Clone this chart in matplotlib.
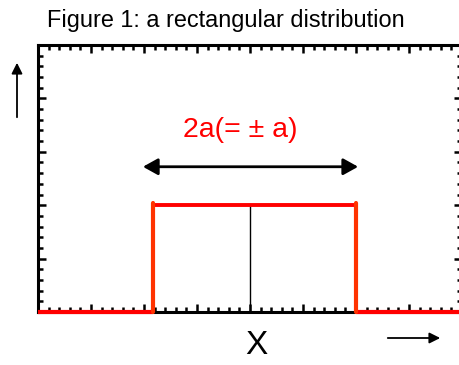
import numpy as np
import matplotlib.pyplot as plt
from matplotlib.ticker import MultipleLocator

plt.rcParams['font.family'] = ['Liberation Sans', 'DejaVu Sans']

# rectangular distribution
edge_left  = 2.17
edge_right = 6.0
centre     = 4.0
height     = 2.0
x_max      = 8.0
y_max      = 5.0

base_x = [[0, edge_left], [edge_right, x_max]]
top_x  = [edge_left, edge_right]
width_arrow = [1.98, 6.04]
arrow_y     = 2.72
label       = '2a(= ± a)'

fig = plt.figure(figsize=(4.6, 3.65), dpi=100)
ax = fig.add_axes([38/460, 53/365, 424/460, 267/365])

# red step shape
for seg in base_x:
    ax.plot(seg, [0, 0], color='#ff0000', lw=3, clip_on=False, zorder=5,
            solid_capstyle='butt')
ax.plot(top_x, [height, height], color='#ff0000', lw=2.8, zorder=5)
for xe in (edge_left, edge_right):
    ax.plot([xe, xe], [0, height + 0.05], color='#ff3300', lw=3,
            clip_on=False, zorder=5, solid_capstyle='round')

ax.plot([centre, centre], [0, height], color='black', lw=1)

ax.annotate('', xy=(width_arrow[0], arrow_y), xytext=(width_arrow[1], arrow_y),
            arrowprops=dict(arrowstyle='<|-|>,head_length=0.45,head_width=0.25',
                            color='black', lw=2, mutation_scale=20,
                            shrinkA=0, shrinkB=0))
ax.text(3.81, 3.41, label, color='#ff0000', fontsize=20.5, ha='center', va='center')

ax.set_xlim(0, x_max)
ax.set_ylim(0, y_max)
ax.xaxis.set_major_locator(MultipleLocator(1))
ax.xaxis.set_minor_locator(MultipleLocator(0.2))
ax.yaxis.set_major_locator(MultipleLocator(1))
ax.yaxis.set_minor_locator(MultipleLocator(0.2))
ax.tick_params(which='both', direction='in', top=True, right=True,
               labelbottom=False, labelleft=False, width=1.8)
ax.tick_params(which='major', length=6)
ax.tick_params(which='minor', length=3.5)
for s in ax.spines.values():
    s.set_linewidth(2.2)

fig.text(226/460, 1 - 20/365, 'Figure 1: a rectangular distribution',
         fontsize=16.9, ha='center', va='center')
fig.text(256/460, 1 - 345/365, 'X', fontsize=24, ha='center', va='center')

# direction arrows outside the axes
fig.add_artist(plt.matplotlib.patches.FancyArrowPatch(
    (385/460, 1 - 338/365), (443/460, 1 - 338/365), transform=fig.transFigure,
    arrowstyle='-|>', mutation_scale=16, lw=1.3, color='black'))
fig.add_artist(plt.matplotlib.patches.FancyArrowPatch(
    (17/460, 1 - 120/365), (17/460, 1 - 60/365), transform=fig.transFigure,
    arrowstyle='-|>', mutation_scale=16, lw=1.3, color='black'))

fig.savefig('out.png', dpi=100)
